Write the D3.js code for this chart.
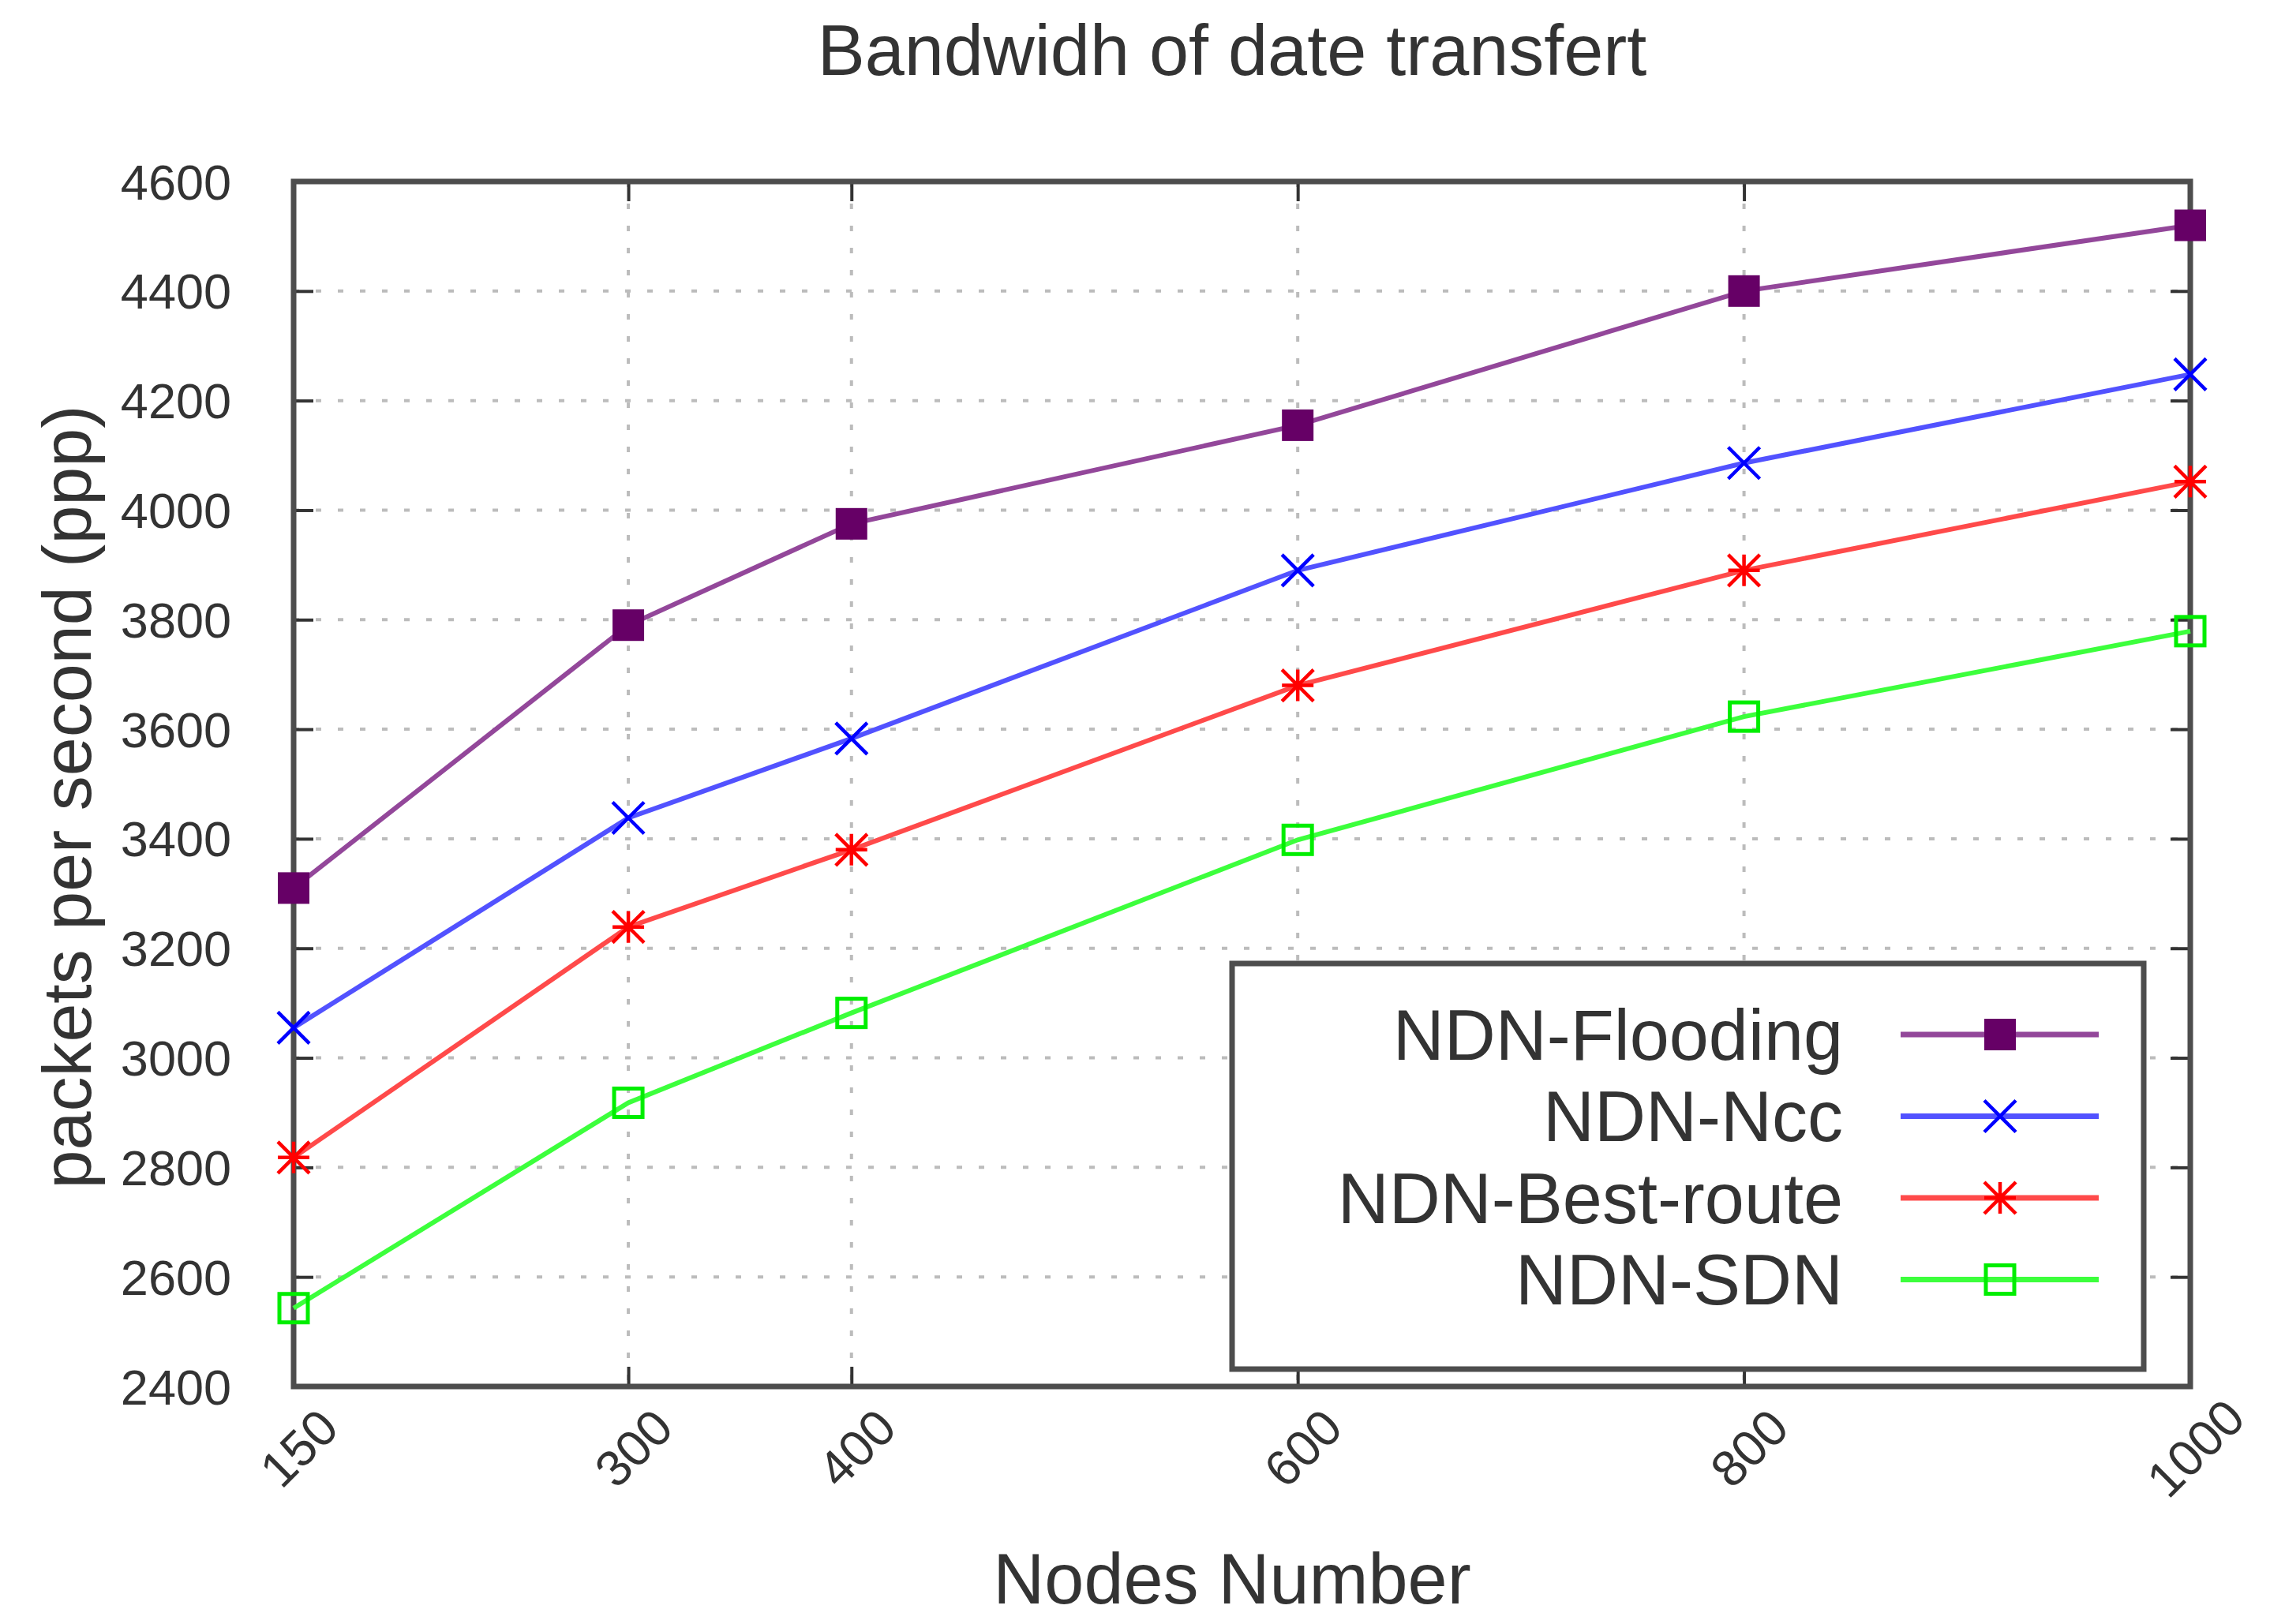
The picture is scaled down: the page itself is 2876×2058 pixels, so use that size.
<!DOCTYPE html>
<html>
<head>
<meta charset="utf-8">
<script src="https://cdn.jsdelivr.net/npm/d3@7"></script>
<style>
  body { margin: 0; background: #fff; }
  svg text { font-family: "Liberation Sans", Arial, sans-serif; fill: #333; }
</style>
</head>
<body>
<svg id="chart" width="2876" height="2058"></svg>
<script>
// values
const nodes = [150, 300, 400, 600, 800, 1000];
const flooding = [3310, 3790, 3975, 4155, 4400, 4520];
const ncc = [3055, 3438, 3583, 3890, 4086, 4248];
const bestRoute = [2818, 3239, 3380, 3680, 3890, 4052];
const sdn = [2543, 2918, 3082, 3398, 3623, 3779];
const yTicks = [2400, 2600, 2800, 3000, 3200, 3400, 3600, 3800, 4000, 4200, 4400, 4600];
const seriesNames = ["NDN-Flooding", "NDN-Ncc", "NDN-Best-route", "NDN-SDN"];

const series = [
  { name: seriesNames[0], values: flooding, line: "#93479a", mark: "#660066", shape: "fsquare" },
  { name: seriesNames[1], values: ncc, line: "#5252ff", mark: "#0000ff", shape: "cross" },
  { name: seriesNames[2], values: bestRoute, line: "#ff4a4a", mark: "#ff0000", shape: "star" },
  { name: seriesNames[3], values: sdn, line: "#3cff3c", mark: "#00ee00", shape: "osquare" }
];

const margin = { top: 230, left: 372, right: 101, bottom: 301 };
const W = 2876, H = 2058;
const width = W - margin.left - margin.right;
const height = H - margin.top - margin.bottom;

const svg = d3.select("#chart");
const chart = svg.append("g")
  .attr("transform", `translate(${margin.left},${margin.top})`);

const x = d3.scaleLinear().domain([150, 1000]).range([0, width]);
const y = d3.scaleLinear().domain([2400, 4600]).range([height, 0]);

// dotted grid
chart.append("g")
  .selectAll("line.hgrid")
  .data(yTicks.slice(1, -1))
  .join("line")
  .attr("x1", 0).attr("x2", width)
  .attr("y1", d => y(d)).attr("y2", d => y(d));
chart.append("g")
  .selectAll("line.vgrid")
  .data(nodes.slice(1, -1))
  .join("line")
  .attr("x1", d => x(d)).attr("x2", d => x(d))
  .attr("y1", 0).attr("y2", height);
chart.selectAll("g line")
  .attr("stroke", "#bcbcbc")
  .attr("stroke-width", 4)
  .attr("stroke-dasharray", "7,21");

// axes with inward ticks (mirrored like gnuplot)
const tickLen = 25;
const axisLeft = chart.append("g")
  .call(d3.axisLeft(y).tickValues(yTicks).tickSize(-tickLen).tickPadding(79).tickFormat(d3.format("d")));
const axisRight = chart.append("g")
  .attr("transform", `translate(${width},0)`)
  .call(d3.axisRight(y).tickValues(yTicks).tickSize(-tickLen).tickFormat(""));
const axisBottom = chart.append("g")
  .attr("transform", `translate(0,${height})`)
  .call(d3.axisBottom(x).tickValues(nodes).tickSize(-tickLen).tickFormat(d3.format("d")));
const axisTop = chart.append("g")
  .call(d3.axisTop(x).tickValues(nodes).tickSize(-tickLen).tickFormat(""));

[axisLeft, axisRight, axisBottom, axisTop].forEach(a => {
  a.select(".domain").remove();
  a.selectAll(".tick line").attr("stroke", "#333").attr("stroke-width", 4);
});

axisLeft.selectAll(".tick text")
  .attr("font-size", 63)
  .attr("fill", "#333")
  .attr("dy", "0.35em");

axisBottom.selectAll(".tick text")
  .attr("font-size", 64)
  .attr("fill", "#333")
  .attr("text-anchor", "middle")
  .attr("y", 0)
  .attr("dy", "0.35em")
  .attr("transform", "translate(6,78) rotate(-45)");

// frame
chart.append("rect")
  .attr("width", width).attr("height", height)
  .attr("fill", "none")
  .attr("stroke", "#4d4d4d")
  .attr("stroke-width", 7);

// series lines
const line = d3.line()
  .x((d, i) => x(nodes[i]))
  .y(d => y(d));

chart.selectAll(".series-line")
  .data(series)
  .join("path")
  .attr("class", "series-line")
  .attr("d", d => line(d.values))
  .attr("fill", "none")
  .attr("stroke", d => d.line)
  .attr("stroke-width", 6);

// marker drawing
function drawMark(g, shape, color) {
  const s = 20;
  if (shape == "fsquare") {
    g.append("rect").attr("x", -s).attr("y", -s).attr("width", 2 * s).attr("height", 2 * s)
      .attr("fill", color);
  } else if (shape == "osquare") {
    g.append("rect").attr("x", -s + 2).attr("y", -s + 2).attr("width", 2 * s - 4).attr("height", 2 * s - 4)
      .attr("fill", "none").attr("stroke", color).attr("stroke-width", 5);
  } else if (shape == "cross") {
    g.append("path").attr("d", `M${-s},${-s}L${s},${s}M${-s},${s}L${s},${-s}`)
      .attr("stroke", color).attr("stroke-width", 4.5);
  } else {
    g.append("path").attr("d", `M${-s},${-s}L${s},${s}M${-s},${s}L${s},${-s}M0,${-s}L0,${s}M${-s},0L${s},0`)
      .attr("stroke", color).attr("stroke-width", 4.5);
  }
}

series.forEach(sr => {
  sr.values.forEach((v, i) => {
    const g = chart.append("g")
      .attr("transform", `translate(${x(nodes[i])},${y(v)})`);
    drawMark(g, sr.shape, sr.mark);
  });
});

// legend
const legend = svg.append("g").attr("transform", "translate(1561,1221)");
legend.append("rect")
  .attr("width", 1155).attr("height", 514)
  .attr("fill", "#fff")
  .attr("stroke", "#4d4d4d")
  .attr("stroke-width", 7);

const rows = legend.selectAll(".leg-row")
  .data(series)
  .join("g")
  .attr("class", "leg-row")
  .attr("transform", (d, i) => `translate(0,${90 + i * 103.5})`);

rows.append("text")
  .attr("x", 774)
  .attr("dy", "0.35em")
  .attr("text-anchor", "end")
  .attr("font-size", 90)
  .attr("fill", "#333")
  .text(d => d.name);

rows.append("line")
  .attr("x1", 847).attr("x2", 1098)
  .attr("stroke", d => d.line)
  .attr("stroke-width", 7);

rows.each(function(d) {
  const g = d3.select(this).append("g").attr("transform", "translate(973,0)");
  drawMark(g, d.shape, d.mark);
});

// titles
svg.append("text")
  .attr("x", 1561).attr("y", 95)
  .attr("text-anchor", "middle")
  .attr("font-size", 90)
  .text("Bandwidh of date transfert");

svg.append("text")
  .attr("x", 1561).attr("y", 2032)
  .attr("text-anchor", "middle")
  .attr("font-size", 90)
  .text("Nodes Number");

svg.append("text")
  .attr("transform", "translate(84,1010) rotate(-90)")
  .attr("text-anchor", "middle")
  .attr("dy", "0.35em")
  .attr("font-size", 88)
  .text("packets per second (ppp)");
</script>
</body>
</html>
